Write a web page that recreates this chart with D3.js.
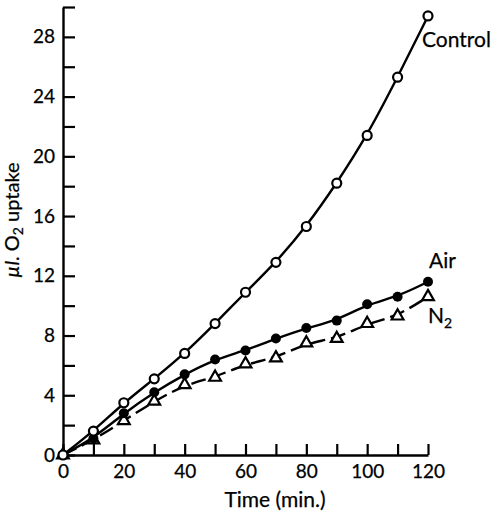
<!DOCTYPE html>
<html>
<head>
<meta charset="utf-8">
<script src="https://cdn.jsdelivr.net/npm/d3@7"></script>
<style>
  html, body { margin: 0; padding: 0; background: #fff; }
  svg { display: block; }
  text { font-family: Lato, "Open Sans", sans-serif; fill: #000; stroke: #000; stroke-width: 0.25px; }
</style>
</head>
<body>
<svg id="chart" width="495" height="515"></svg>
<script>
// ---- data ----
const times   = [0, 10, 20, 30, 40, 50, 60, 70, 80, 90, 100, 110, 120];
const control = [0, 1.6, 3.5, 5.1, 6.8, 8.8, 10.9, 12.9, 15.3, 18.2, 21.4, 25.3, 29.4];
const air     = [0, 1.1, 2.8, 4.2, 5.4, 6.4, 7.0, 7.8, 8.5, 9.0, 10.1, 10.6, 11.6];
const n2      = [0, 1.0, 2.3, 3.6, 4.7, 5.2, 6.1, 6.5, 7.5, 7.8, 8.8, 9.3, 10.6];
const xTicks  = d3.range(0, 121, 10);
const yTicks  = d3.range(0, 31, 2);
const xTitle  = "Time (min.)";

// ---- layout ----
const svg = d3.select("#chart");
const x = d3.scaleLinear().domain([0, 120]).range([63, 428]);
const y = d3.scaleLinear().domain([0, 30]).range([455, 7]);

// axes
const xAxis = d3.axisBottom(x)
  .tickValues(xTicks)
  .tickSizeInner(-11).tickSizeOuter(0).tickPadding(10)
  .tickFormat(d => d % 20 === 0 ? d : "");
const yAxis = d3.axisLeft(y)
  .tickValues(yTicks)
  .tickSizeInner(-12).tickSizeOuter(0).tickPadding(8)
  .tickFormat(d => (d % 4 === 0 && d <= 28) ? d : "");

const gx = svg.append("g").attr("transform", `translate(0,${y(0)})`).call(xAxis);
const gy = svg.append("g").attr("transform", `translate(${x(0)},0)`).call(yAxis);
[gx, gy].forEach(g => {
  g.select(".domain").attr("stroke", "#000").attr("stroke-width", 2.4);
  g.selectAll(".tick line").attr("stroke", "#000").attr("stroke-width", 2.2);
  g.selectAll(".tick text").style("font-size", "19px").attr("fill", "#000")
    .style("font-family", "Lato, 'Open Sans', sans-serif");
});
gx.selectAll(".tick text").attr("dy", "0.71em");

// axis titles
svg.append("text")
  .attr("x", 275).attr("y", 507)
  .attr("text-anchor", "middle")
  .style("font-size", "21px")
  .text(xTitle);

const yt = svg.append("text")
  .attr("transform", `translate(19,220) rotate(-90)`)
  .attr("text-anchor", "middle")
  .style("font-size", "20px");
yt.append("tspan").style("font-style", "italic").text("µl");
yt.append("tspan").text(". O");
yt.append("tspan").attr("dy", 4).style("font-size", "14px").text("2");
yt.append("tspan").attr("dy", -4).text(" uptake");

// ---- series ----
const line = d3.line().curve(d3.curveBasis).x(d => x(d[0])).y(d => y(d[1]));
const zipped = arr => times.map((t, i) => [t, arr[i]]);

svg.append("path").datum(zipped(control))
  .attr("d", line).attr("fill", "none").attr("stroke", "#000").attr("stroke-width", 2.4);
svg.append("path").datum(zipped(air))
  .attr("d", line).attr("fill", "none").attr("stroke", "#000").attr("stroke-width", 2.4);
svg.append("path").datum(zipped(n2))
  .attr("d", line).attr("fill", "none").attr("stroke", "#000").attr("stroke-width", 2.4)
  .attr("stroke-dasharray", "15,6");

// markers
svg.append("g").selectAll("path").data(zipped(n2)).join("path")
  .attr("transform", d => `translate(${x(d[0])},${y(d[1])})`)
  .attr("d", d3.symbol().type(d3.symbolTriangle).size(60))
  .attr("fill", "#fff").attr("stroke", "#000").attr("stroke-width", 2.2);
svg.append("g").selectAll("circle").data(zipped(air)).join("circle")
  .attr("cx", d => x(d[0])).attr("cy", d => y(d[1])).attr("r", 5)
  .attr("fill", "#000");
svg.append("g").selectAll("circle").data(zipped(control)).join("circle")
  .attr("cx", d => x(d[0])).attr("cy", d => y(d[1])).attr("r", 4.5)
  .attr("fill", "#fff").attr("stroke", "#000").attr("stroke-width", 2.2);

// series labels
svg.append("text").attr("x", 422).attr("y", 47).style("font-size", "21px").text("Control");
svg.append("text").attr("x", 429).attr("y", 268).style("font-size", "21px").text("Air");
const nl = svg.append("text").attr("x", 428).attr("y", 323).style("font-size", "21px");
nl.append("tspan").text("N");
nl.append("tspan").attr("dy", 5).style("font-size", "14px").text("2");
</script>
</body>
</html>
